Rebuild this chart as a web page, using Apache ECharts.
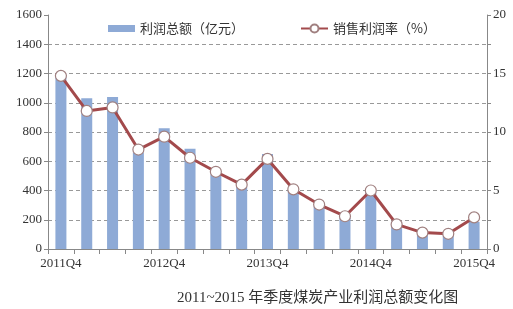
<!DOCTYPE html>
<html><head><meta charset="utf-8">
<script src="https://cdn.jsdelivr.net/npm/echarts@6/dist/echarts.min.js"></script>
<style>html,body{margin:0;padding:0;background:#fff}#c{width:513px;height:309px}</style>
</head><body><div id="c"></div>
<script>
var categories = ['2011Q4','2012Q1','2012Q2','2012Q3','2012Q4','2013Q1','2013Q2','2013Q3','2013Q4','2014Q1','2014Q2','2014Q3','2014Q4','2015Q1','2015Q2','2015Q3','2015Q4'];
var profit = [1180, 1030, 1040, 660, 825, 685, 510, 425, 650, 405, 290, 215, 385, 160, 95, 90, 185];
var rate = [14.8, 11.8, 12.1, 8.5, 9.6, 7.8, 6.6, 5.5, 7.7, 5.1, 3.8, 2.8, 5.0, 2.1, 1.4, 1.3, 2.7];
var shownLabels = ['2011Q4','2012Q4','2013Q4','2014Q4','2015Q4'];
var numFont = '"Liberation Serif", "Noto Sans CJK SC", serif';
var cjkFont = '"Noto Sans CJK SC", sans-serif';
var gridColors = ['#999','#999','#999','#999','#999','#999','#999','#999','rgba(0,0,0,0)'];
var chart = echarts.init(document.getElementById('c'));
chart.setOption({
  animation: false,
  backgroundColor: '#fff',
  title: {
    text: '2011~2015 年季度煤炭产业利润总额变化图',
    left: 172, top: 286,
    textStyle: {fontSize: 15, fontWeight: 'normal', color: '#333', fontFamily: numFont}
  },
  legend: [{
    top: 17, left: 103, itemWidth: 27, itemHeight: 7,
    textStyle: {fontSize: 13, color: '#333', fontFamily: cjkFont},
    data: [{name: '利润总额（亿元）', icon: 'rect'}]
  }, {
    top: 17, left: 295, itemWidth: 27, itemHeight: 10,
    textStyle: {fontSize: 13, color: '#333', fontFamily: cjkFont},
    data: [{name: '销售利润率（%）'}]
  }],
  grid: {left: 48, right: 26, top: 15, bottom: 60},
  xAxis: {
    type: 'category', data: categories, boundaryGap: true,
    axisLine: {lineStyle: {color: '#888', width: 1}},
    axisTick: {show: true, interval: 0, length: 5, lineStyle: {color: '#888'}},
    axisLabel: {
      interval: 0, color: '#333', fontSize: 13, fontFamily: numFont, margin: 8,
      formatter: function (v) { return shownLabels.indexOf(v) >= 0 ? v : ''; }
    }
  },
  yAxis: [{
    type: 'value', min: 0, max: 1600, interval: 200,
    axisLine: {show: true, lineStyle: {color: '#888'}},
    axisTick: {show: true, length: 4, lineStyle: {color: '#888'}},
    axisLabel: {color: '#333', fontSize: 13, fontFamily: numFont, margin: 6,
      formatter: function (v) { return String(v); }},
    splitLine: {lineStyle: {color: gridColors, type: [4, 3]}}
  }, {
    type: 'value', min: 0, max: 20, interval: 2.5,
    axisLine: {show: true, lineStyle: {color: '#888'}},
    axisTick: {show: true, length: 4, lineStyle: {color: '#888'}},
    axisLabel: {color: '#333', fontSize: 13, fontFamily: numFont, margin: 6,
      formatter: function (v) { return v % 5 === 0 ? String(v) : ''; }},
    splitLine: {show: false}
  }],
  series: [{
    name: '利润总额（亿元）', type: 'bar', data: profit, barWidth: 11,
    itemStyle: {color: '#8eaad6'}
  }, {
    name: '销售利润率（%）', type: 'line', yAxisIndex: 1, data: rate,
    symbol: 'circle', symbolSize: 11, showAllSymbol: true,
    lineStyle: {color: '#a34a4c', width: 3},
    itemStyle: {color: '#fff', borderColor: '#a08080', borderWidth: 1.2}
  }]
});
</script></body></html>
